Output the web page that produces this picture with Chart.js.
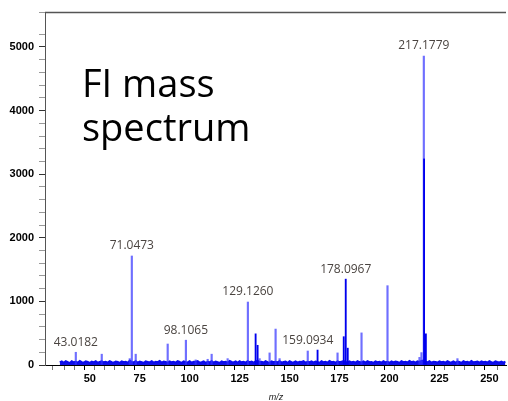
<!DOCTYPE html>
<html>
<head>
<meta charset="utf-8">
<script src="https://cdn.jsdelivr.net/npm/chart.js@4.4.1/dist/chart.umd.min.js"></script>
<style>
  html, body { margin: 0; padding: 0; background: #fff; }
  #wrap { width: 508px; height: 401px; position: relative; }
</style>
</head>
<body>
<div id="wrap"><canvas id="spec"></canvas></div>
<script>
// peaks (m/z, counts)
const lightMz = [43.02, 56.0, 70.0, 71.05, 73.0, 89.0, 98.11, 103.0, 109.0, 111.0, 119.0, 129.13, 135.0, 140.0, 143.0, 145.0, 159.09, 174.0, 186.0, 199.0, 215.0, 216.0, 217.18, 234.0];
const lightInt = [200, 170, 100, 1714, 170, 330, 390, 80, 90, 170, 100, 990, 100, 190, 565, 100, 220, 190, 505, 1247, 120, 195, 4858, 100];
const darkMz = [133.0, 134.0, 164.0, 177.1, 178.1, 179.1, 217.3, 218.2];
const darkInt = [490, 310, 235, 445, 1350, 265, 3240, 490];

// baseline noise, one value per m/z from 35 to 258
const noiseStart = 35;
const noise = [
  40,55,35,60,45,30,58,42,50,36,62,44,38,56,48,33,
  52,40,60,35,47,58,42,50,37,61,45,39,55,48,34,57,
  43,51,36,66,48,40,59,38,53,45,31,57,49,41,60,37,
  50,44,63,39,55,46,35,58,42,51,38,62,47,33,56,45,
  40,59,36,52,48,61,39,45,57,34,50,43,60,38,54,46,
  32,58,44,51,37,63,47,40,55,36,59,42,49,35,61,45,
  53,38,57,66,44,50,39,62,46,35,58,43,52,40,60,37,
  48,55,33,59,45,41,56,38,52,47,61,36,50,43,57,39,
  54,46,34,60,42,51,38,63,45,49,36,58,44,53,62,47,
  39,56,42,50,35,59,46,40,55,37,61,44,48,33,57,45,
  52,38,60,43,49,36,58,41,54,47,34,59,45,50,39,62,
  44,53,37,57,48,65,70,55,41,60,36,52,46,39,58,43,
  50,35,61,45,40,56,38,53,47,33,59,44,51,37,62,42,
  49,55,36,58,43,50,39,60,45,34,57,48,41,54,38,52
];

// annotated peaks
const labelMz = [43.02, 71.05, 98.11, 129.13, 159.09, 178.1, 217.18];
const labelText = ["43.0182", "71.0473", "98.1065", "129.1260", "159.0934", "178.0967", "217.1779"];
const labelInt = [200, 1714, 390, 990, 220, 1350, 4858];

const titleLines = ["FI mass", "spectrum"];

const xMin = 27.6, xMax = 258.3;
const yMax = 5550;

function pts(xs, ys) {
  return xs.map((x, i) => ({ x: x, y: ys[i] }));
}
const noisePts = noise.map((v, i) => ({ x: noiseStart + i, y: v }));

const extras = {
  id: "extras",
  afterDraw(chart) {
    const ctx = chart.ctx;
    const xs = chart.scales.x;
    const ys = chart.scales.y;
    ctx.save();
    // top frame line, along the top of the y scale
    const topY = Math.round(ys.getPixelForValue(yMax)) + 0.5;
    ctx.strokeStyle = "#555";
    ctx.lineWidth = 1.5;
    ctx.beginPath();
    ctx.moveTo(xs.left, topY);
    ctx.lineTo(xs.right, topY);
    ctx.stroke();
    // peak labels
    ctx.fillStyle = "#4a4440";
    ctx.font = '12px "Open Sans"';
    ctx.textAlign = "center";
    ctx.textBaseline = "bottom";
    labelMz.forEach((mz, i) => {
      ctx.fillText(labelText[i], xs.getPixelForValue(mz), ys.getPixelForValue(labelInt[i]) - 4);
    });
    // big title text
    ctx.fillStyle = "#000";
    ctx.font = '38px "Open Sans"';
    ctx.textAlign = "left";
    ctx.textBaseline = "alphabetic";
    ctx.fillText(titleLines[0], 82, 97);
    ctx.fillText(titleLines[1], 82, 141);
    // axis title
    ctx.fillStyle = "#222";
    ctx.font = 'italic 9px "Liberation Sans"';
    ctx.textAlign = "center";
    ctx.fillText("m/z", 276, 400);
    ctx.restore();
  }
};

new Chart(document.getElementById("spec"), {
  type: "bar",
  data: {
    datasets: [
      {
        type: "line",
        data: noisePts,
        borderColor: "#0a0aee",
        backgroundColor: "#1212e6",
        borderWidth: 2,
        pointRadius: 0,
        fill: "origin",
        order: 3,
      },
      {
        data: pts(lightMz, lightInt),
        backgroundColor: "rgba(50,50,255,0.7)",
        barThickness: 1.5,
        grouped: false,
        order: 2,
      },
      {
        data: pts(darkMz, darkInt),
        backgroundColor: "#0000ee",
        barThickness: 1.2,
        grouped: false,
        order: 1,
      },
    ],
  },
  options: {
    responsive: true,
    maintainAspectRatio: false,
    animation: false,
    layout: { padding: { top: 12, right: 0, left: 0, bottom: 0 } },
    plugins: { legend: { display: false }, tooltip: { enabled: false } },
    scales: {
      x: {
        type: "linear",
        min: xMin,
        max: xMax,
        offset: false,
        afterFit: (s) => { s.height = 36; },
        border: { color: "#000", width: 1 },
        grid: {
          drawOnChartArea: false,
          tickLength: 5,
          color: (c) => (c.tick && c.tick.value % 25 === 0 ? "#000" : "#777"),
        },
        ticks: {
          stepSize: 5,
          autoSkip: false,
          maxRotation: 0,
          padding: 2,
          color: "#000",
          font: { family: "Liberation Sans", size: 11, weight: "bold" },
          callback: (v) => (v % 25 === 0 ? v : ""),
        },
      },
      y: {
        min: 0,
        max: yMax,
        afterFit: (s) => { s.width = 45; },
        border: { color: "#555", width: 1 },
        grid: {
          drawOnChartArea: false,
          tickLength: 6,
          color: (c) => (c.tick && c.tick.value % 1000 === 0 ? "#333" : "#999"),
        },
        ticks: {
          stepSize: 200,
          autoSkip: false,
          padding: 5,
          color: "#000",
          font: { family: "Liberation Sans", size: 11, weight: "bold" },
          callback: (v) => (v % 1000 === 0 ? v : ""),
        },
      },
    },
  },
  plugins: [extras],
});
</script>
</body>
</html>
